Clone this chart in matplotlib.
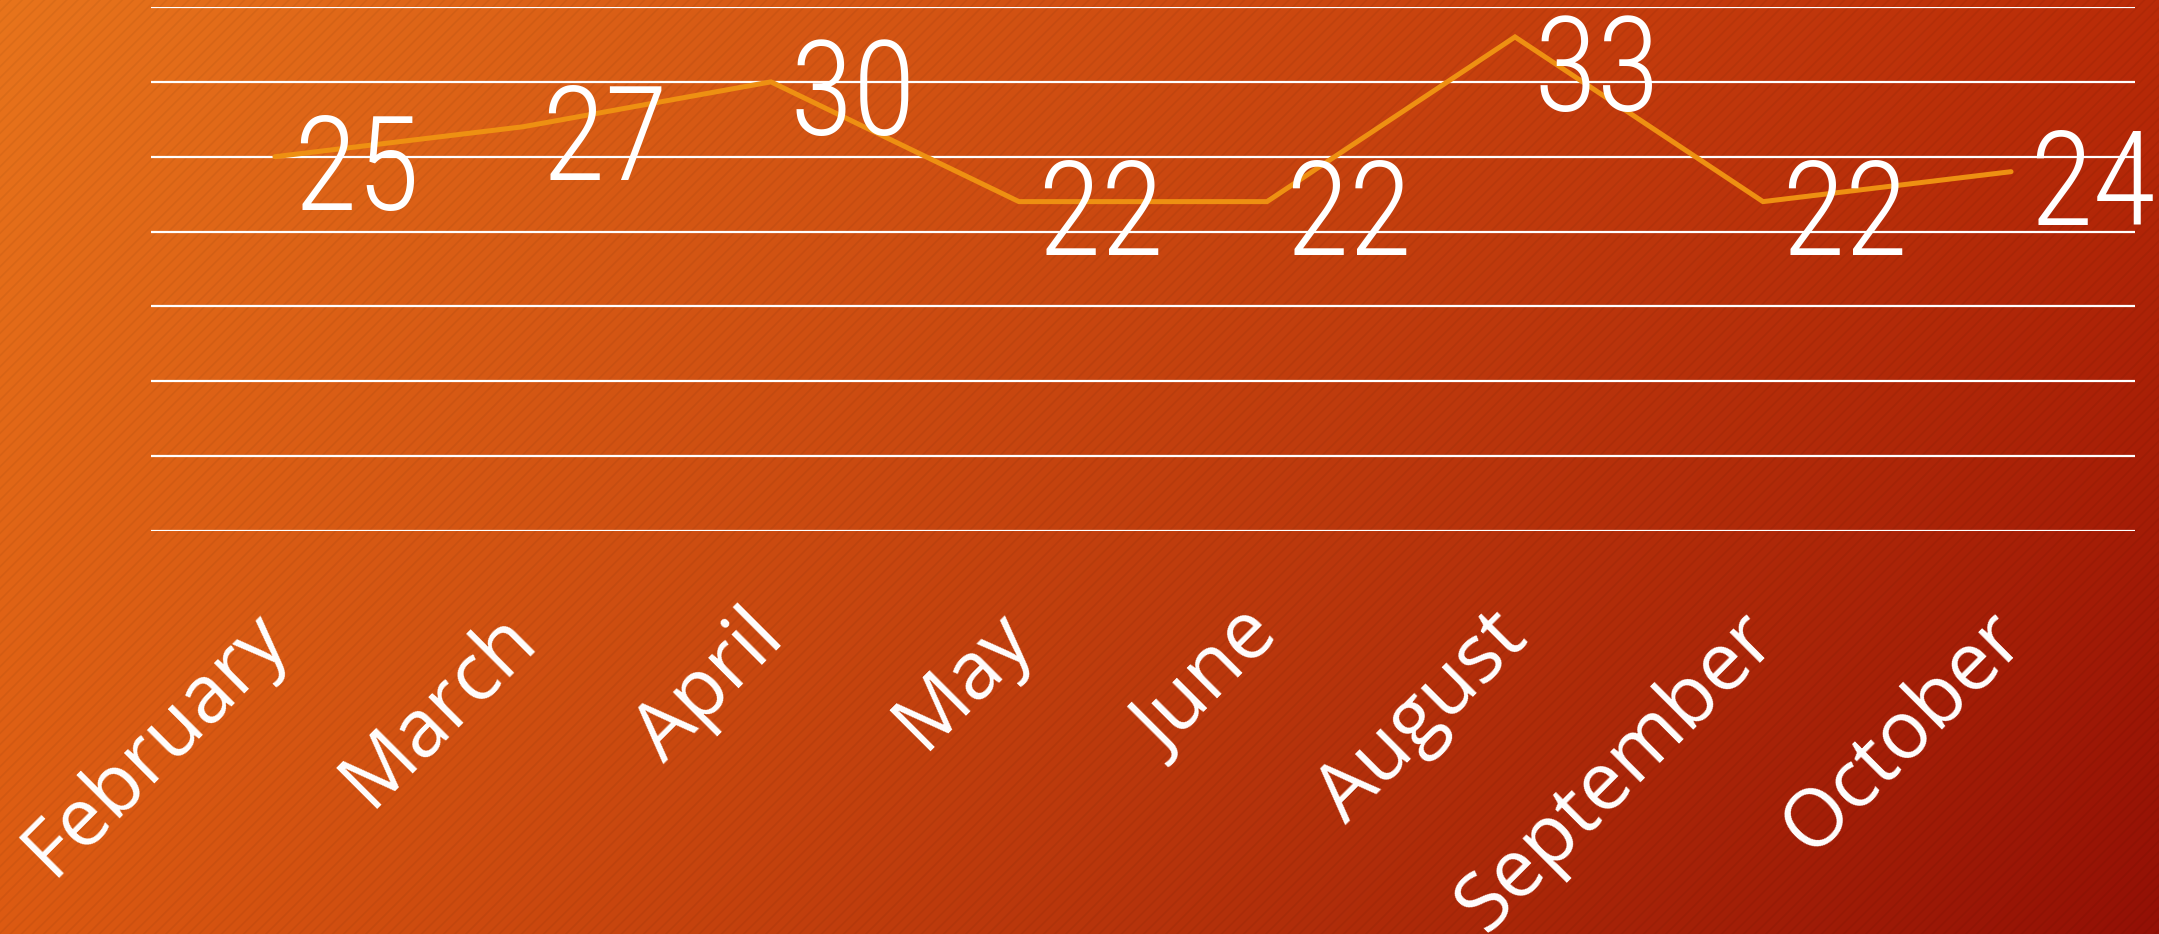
import numpy as np
import matplotlib
matplotlib.use("Agg")
import matplotlib.pyplot as plt
from matplotlib.patches import Rectangle
from matplotlib.colors import to_rgb

# data
months = ["February", "March", "April", "May", "June", "August", "September", "October"]
values = [25, 27, 30, 22, 22, 33, 22, 24]

# corner colours of the background gradient
c_tl = np.array(to_rgb("#E8741C"))
c_tr = np.array(to_rgb("#BA2B08"))
c_bl = np.array(to_rgb("#DC5A12"))
c_br = np.array(to_rgb("#941005"))

fig = plt.figure(figsize=(21.59, 9.34), dpi=100)

# gradient background
bg = fig.add_axes([0, 0, 1, 1], zorder=0)
nx, ny = 400, 200
u = np.linspace(0, 1, nx)[None, :, None]
v = np.linspace(0, 1, ny)[:, None, None]
img = (c_tl * (1 - u) * (1 - v) + c_tr * u * (1 - v)
       + c_bl * (1 - u) * v + c_br * u * v)
bg.imshow(img, aspect="auto", extent=[0, 1, 0, 1], interpolation="bilinear")
plt.rcParams["hatch.linewidth"] = 1.2
bg.add_patch(Rectangle((0, 0), 1, 1, facecolor="none", edgecolor=(0, 0, 0, 0.05),
                       hatch="///", linewidth=0, transform=bg.transAxes))
bg.set_xlim(0, 1)
bg.set_ylim(0, 1)
bg.axis("off")

# main chart
ax = fig.add_axes([0.0699, 0.4315, 0.9190, 0.5610], zorder=1)
ax.patch.set_alpha(0)
x = np.arange(len(months))
ax.plot(x, values, color="#EE9012", linewidth=3.6, solid_capstyle="round",
        solid_joinstyle="miter", zorder=3)

ax.set_xlim(-0.5, len(months) - 0.5)
ax.set_ylim(0, 35)
ax.set_yticks(np.arange(0, 36, 5))
ax.yaxis.grid(True, color="white", linewidth=1.6)
ax.set_axisbelow(True)
ax.tick_params(axis="y", left=False, labelleft=False)
ax.tick_params(axis="x", length=0, pad=68)
for s in ax.spines.values():
    s.set_visible(False)

ax.set_xticks(x)
ax.set_xticklabels(months, rotation=45, ha="right", va="center",
                   rotation_mode="anchor", fontsize=58, color="white",
                   family=["Open Sans", "DejaVu Sans"])

# data labels
for xi, val in zip(x, values):
    ax.annotate(str(val), (xi, min(val, 31.6)), xytext=(13, -12),
                textcoords="offset points", ha="left", va="center",
                fontsize=94, color="white", fontweight="light",
                family=["Roboto Condensed", "DejaVu Sans"],
                annotation_clip=False, zorder=4)

fig.savefig("out.png", dpi=100)
